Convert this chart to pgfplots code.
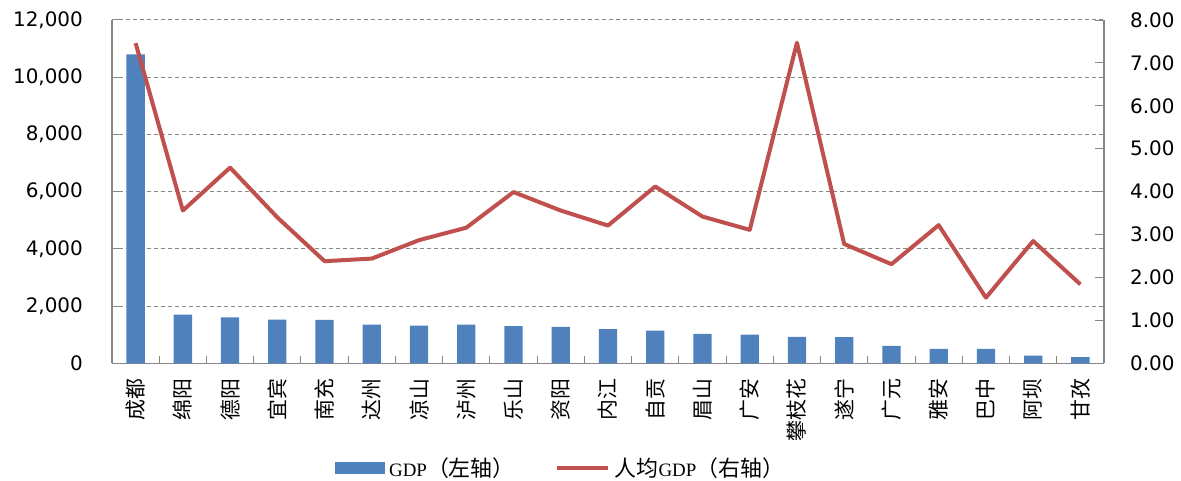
\documentclass[border=0pt]{standalone}
\usepackage{pgfplots}
\pgfplotsset{compat=1.18}
\usepackage{fontspec}
\setmainfont{Liberation Serif}
\newfontfamily\cjk{Noto Sans CJK SC}
\newfontfamily\tickfont{DejaVu Sans}
\definecolor{barblue}{HTML}{4F81BD}
\definecolor{redline}{HTML}{C0504D}
\definecolor{axisgray}{HTML}{868686}

\pgfplotstableread{
x gdp pc
0 10801 7.46
1 1700 3.56
2 1605 4.56
3 1525 3.40
4 1516 2.38
5 1351 2.44
6 1315 2.87
7 1353 3.16
8 1301 3.99
9 1270 3.56
10 1198 3.21
11 1143 4.12
12 1030 3.42
13 1005 3.11
14 925 7.47
15 916 2.78
16 605 2.31
17 502 3.22
18 501 1.53
19 265 2.85
20 213 1.84
}\datatable

\begin{document}
\begin{tikzpicture}
\path[use as bounding box] (-112bp,-117.7bp) rectangle (1069bp,363.3bp);
\begin{axis}[
  scale only axis, width=992bp, height=343.3bp,
  xmin=-0.5, xmax=20.5, ymin=0, ymax=12000,
  scaled y ticks=false,
  axis x line*=bottom, axis y line*=left,
  axis line style={axisgray, line width=1.2bp},
  xtick={0,...,20},
  xticklabels={成都,绵阳,德阳,宜宾,南充,达州,凉山,泸州,乐山,资阳,内江,自贡,眉山,广安,攀枝花,遂宁,广元,雅安,巴中,阿坝,甘孜},
  major x tick style={draw=none},
  minor xtick={0.5,1.5,...,19.5},
  minor tick length=7bp,
  major tick length=10bp,
  tick style={axisgray, line width=1bp},
  ytick={0,2000,...,12000},
  ymajorgrids,
  grid style={axisgray, line width=1bp, dash pattern=on 4bp off 3bp},
  xticklabel style={font=\cjk\fontsize{21}{21}\selectfont, yshift=-15bp, rotate=90, anchor=east, inner sep=0pt},
  yticklabel style={font=\tickfont\fontsize{20}{20}\selectfont, inner sep=0pt, xshift=-29bp,
    /pgf/number format/fixed, /pgf/number format/1000 sep={,}, /pgf/number format/assume math mode=true},
]
\addplot[ybar, bar width=18.3bp, fill=barblue, draw=none] table[x=x, y=gdp] {\datatable};
\end{axis}
\begin{axis}[
  scale only axis, width=992bp, height=343.3bp,
  xmin=-0.5, xmax=20.5, ymin=0, ymax=8,
  axis x line=none, axis y line*=right,
  axis line style={axisgray, line width=1.2bp},
  ytick={0,1,...,8},
  major tick length=9bp,
  tick style={axisgray, line width=1bp},
  yticklabel style={font=\tickfont\fontsize{20}{20}\selectfont, inner sep=0pt, xshift=26bp, anchor=west,
    /pgf/number format/fixed, /pgf/number format/fixed zerofill, /pgf/number format/precision=2, /pgf/number format/assume math mode=true},
  legend style={draw=none, fill=none, at={(0.451,-0.305)}, anchor=center, legend columns=2,
    font=\fontsize{19}{22}\selectfont, nodes={inner sep=0bp},
    /tikz/every odd column/.append style={column sep=5bp},
    /tikz/every even column/.append style={column sep=40bp}},
]
\addlegendimage{legend image code/.code={\fill[barblue] (0bp,-5.5bp) rectangle (49bp,5.5bp);}}
\addlegendentry{GDP{\cjk\fontsize{22}{22}\selectfont （左轴）}}
\addplot[redline, line width=4bp, line join=round,
  legend image code/.code={\draw[redline, line width=4bp] (0bp,0bp) -- (51bp,0bp);}]
  table[x=x, y=pc] {\datatable};
\addlegendentry{{\cjk\fontsize{22}{22}\selectfont 人均}GDP{\cjk\fontsize{22}{22}\selectfont （右轴）}}
\end{axis}
\end{tikzpicture}
\end{document}
